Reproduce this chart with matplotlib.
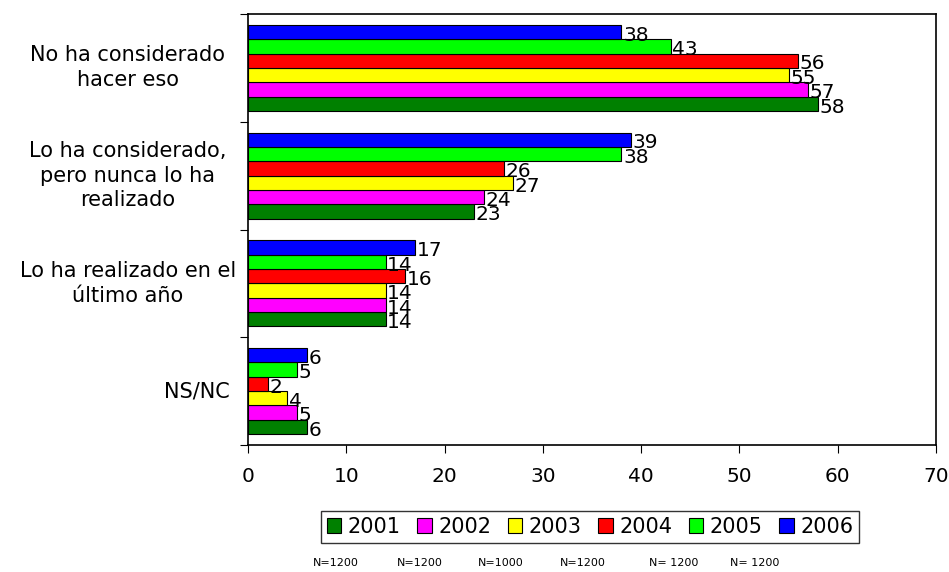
import numpy as np
import matplotlib.pyplot as plt

plt.rcParams['font.family'] = ['DejaVu Sans']

categories = ['No ha considerado\nhacer eso',
              'Lo ha considerado,\npero nunca lo ha\nrealizado',
              'Lo ha realizado en el\núltimo año',
              'NS/NC']
years = ['2001', '2002', '2003', '2004', '2005', '2006']
values = {
    '2001': [58, 23, 14, 6],
    '2002': [57, 24, 14, 5],
    '2003': [55, 27, 14, 4],
    '2004': [56, 26, 16, 2],
    '2005': [43, 38, 14, 5],
    '2006': [38, 39, 17, 6],
}
colors = ['#008000', '#FF00FF', '#FFFF00', '#FF0000', '#00FF00', '#0000FF']
n_labels = ['N=1200', 'N=1200', 'N=1000', 'N=1200', 'N= 1200', 'N= 1200']


def main():
    fig = plt.figure(figsize=(9.49, 5.72), dpi=100)
    ax = fig.add_axes([248 / 949, 1 - 445 / 572, (936 - 248) / 949, (445 - 14) / 572])

    n_cat = len(categories)
    n_ser = len(years)
    group = 0.8
    h = group / n_ser
    y = np.arange(n_cat)

    for i, yr in enumerate(years):
        # 2001 at the bottom of each group, 2006 on top (y axis inverted)
        pos = y + group / 2 - h / 2 - i * h
        ax.barh(pos, values[yr], height=h, color=colors[i],
                edgecolor='black', linewidth=0.8, label=yr)
        for p, v in zip(pos, values[yr]):
            ax.text(v + 0.15, p + 0.03, str(v), ha='left', va='center', fontsize=14.5)

    ax.set_xlim(0, 70)
    ax.set_ylim(n_cat - 0.5, -0.5)
    ax.set_xticks(np.arange(0, 71, 10))
    ax.tick_params(axis='x', labelsize=14.5, direction='out', length=6, pad=10)

    ax.set_yticks(np.arange(n_cat + 1) - 0.5)
    ax.set_yticklabels([])

    # wrapped labels centred in their box, the short one sits next to the axis
    ytr = ax.get_yaxis_transform()
    for yc, lab in zip(y, categories):
        if '\n' in lab:
            ax.annotate(lab, xy=(0, yc), xycoords=ytr, xytext=(-120, 0),
                        textcoords='offset pixels', ha='center', va='center',
                        multialignment='center', linespacing=1.3, fontsize=15)
        else:
            ax.annotate(lab, xy=(0, yc), xycoords=ytr, xytext=(-18, 0),
                        textcoords='offset pixels', ha='right', va='center',
                        fontsize=15)
    ax.tick_params(axis='y', which='major', length=6, direction='out')

    for s in ax.spines.values():
        s.set_linewidth(1.2)

    leg = fig.legend(loc='center', bbox_to_anchor=(590 / 949, 1 - 527 / 572),
                     ncol=6, fontsize=15, frameon=True, fancybox=False,
                     edgecolor='black', handlelength=0.7, handleheight=0.7,
                     handletextpad=0.3, columnspacing=0.8, borderpad=0.3)
    leg.get_frame().set_linewidth(1.0)

    xs = [313, 397, 478, 560, 649, 730]
    for x, lab in zip(xs, n_labels):
        fig.text(x / 949, 1 - 563 / 572, lab, fontsize=8, ha='left', va='center')

    fig.savefig('out.png', dpi=100)


if __name__ == '__main__':
    main()
